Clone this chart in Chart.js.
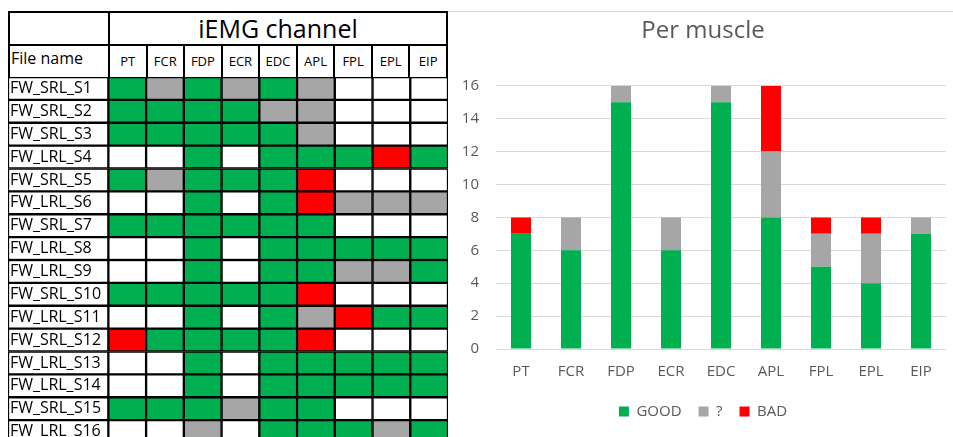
<!DOCTYPE html>
<html>
<head>
<meta charset="utf-8">
<script src="https://cdn.jsdelivr.net/npm/chart.js@4/dist/chart.umd.min.js"></script>
<style>
  html, body { margin: 0; padding: 0; width: 953px; height: 437px; overflow: hidden; background: #fff; font-family: "Open Sans", sans-serif; }
  #head { position: absolute; left: 8px; top: 11px; border-collapse: collapse; table-layout: fixed; width: 440px; }
  #head tr { height: 33px; }
  #head td { border: 2px solid #000; padding: 0; color: #000; overflow: hidden; white-space: nowrap; line-height: 1; }
  #head .title { font-size: 25px; text-align: center; }
  #head .fname { font-size: 16px; vertical-align: top; padding-left: 1px; padding-top: 4px; }
  #head .mus { font-size: 13px; text-align: center; }
  #grid { position: absolute; left: 8px; top: 77px; width: 440px; height: 366px; }
  #per { position: absolute; left: 448px; top: 11px; width: 518px; height: 426px; border-top: 1px solid #d9d9d9; }
</style>
</head>
<body>
<table id="head"></table>
<div id="grid"><canvas id="gridCanvas"></canvas></div>
<div id="per"><canvas id="perCanvas"></canvas></div>
<script>
const muscles = ['PT', 'FCR', 'FDP', 'ECR', 'EDC', 'APL', 'FPL', 'EPL', 'EIP'];
const files = ['FW_SRL_S1', 'FW_SRL_S2', 'FW_SRL_S3', 'FW_LRL_S4', 'FW_SRL_S5', 'FW_LRL_S6', 'FW_SRL_S7', 'FW_LRL_S8',
  'FW_LRL_S9', 'FW_SRL_S10', 'FW_LRL_S11', 'FW_SRL_S12', 'FW_LRL_S13', 'FW_LRL_S14', 'FW_SRL_S15', 'FW_LRL_S16'];

// cell status per muscle column, S1..S16 (G good, Q unsure, B bad, W empty)
const ptStatus  = ['G','G','G','W','G','W','G','W','W','G','W','B','W','W','G','W'];
const fcrStatus = ['Q','G','G','W','Q','W','G','W','W','G','W','G','W','W','G','W'];
const fdpStatus = ['G','G','G','G','G','G','G','G','G','G','G','G','G','G','G','Q'];
const ecrStatus = ['Q','G','G','W','G','W','G','W','W','G','W','G','W','W','Q','W'];
const edcStatus = ['G','Q','G','G','G','G','G','G','G','G','G','G','G','G','G','G'];
const aplStatus = ['Q','Q','Q','G','B','B','G','G','G','B','Q','B','G','G','G','G'];
const fplStatus = ['W','W','W','G','W','Q','W','G','Q','W','B','W','G','G','W','G'];
const eplStatus = ['W','W','W','B','W','Q','W','G','Q','W','G','W','G','G','W','Q'];
const eipStatus = ['W','W','W','G','W','Q','W','G','G','W','G','W','G','G','W','G'];

// per muscle totals
const goodCounts   = [7, 6, 15, 6, 15, 8, 5, 4, 7];
const unsureCounts = [0, 2, 1, 2, 1, 4, 2, 3, 1];
const badCounts    = [1, 0, 0, 0, 0, 4, 1, 1, 0];

const GREEN = '#00B050';
const GREY = '#A6A6A6';
const RED = '#FF0000';
const cellColor = { G: GREEN, Q: GREY, B: RED, W: '#FFFFFF' };
const NAME_COL = 100 / 37.6; // file name column width, in muscle-column units

// header rows
const head = document.getElementById('head');
head.innerHTML =
  '<colgroup><col style="width:100px">' + muscles.map(() => '<col>').join('') + '</colgroup>' +
  '<tr><td class="title"></td><td class="title" colspan="9">iEMG channel</td></tr>' +
  '<tr><td class="fname">File name</td>' + muscles.map(m => '<td class="mus">' + m + '</td>').join('') + '</tr>';

const statusCols = [ptStatus, fcrStatus, fdpStatus, ecrStatus, edcStatus, aplStatus, fplStatus, eplStatus, eipStatus];

const cellDefaults = { borderColor: '#000', borderWidth: 1.5, borderSkipped: false, barPercentage: 1, categoryPercentage: 1 };

new Chart(document.getElementById('gridCanvas'), {
  type: 'bar',
  data: {
    labels: files,
    datasets: [
      { label: 'File name', data: files.map(() => NAME_COL), backgroundColor: '#FFFFFF', ...cellDefaults },
      ...muscles.map((m, j) => ({
        label: m,
        data: files.map(() => 1),
        backgroundColor: statusCols[j].map(s => cellColor[s]),
        ...cellDefaults
      }))
    ]
  },
  options: {
    indexAxis: 'y',
    responsive: true,
    maintainAspectRatio: false,
    animation: false,
    layout: { padding: 0 },
    plugins: { legend: { display: false }, tooltip: { enabled: false } },
    scales: {
      x: { stacked: true, display: false, min: 0, max: NAME_COL + muscles.length },
      y: {
        stacked: true,
        afterFit: (scale) => { scale.width = 0; scale.paddingTop = 0; scale.paddingBottom = 0; },
        grid: { display: false, drawTicks: false },
        border: { display: false },
        ticks: { mirror: true, z: 1, padding: 2, color: '#000', font: { family: 'Open Sans', size: 16 } }
      }
    }
  }
});

new Chart(document.getElementById('perCanvas'), {
  type: 'bar',
  data: {
    labels: muscles,
    datasets: [
      { label: 'GOOD', data: goodCounts, backgroundColor: GREEN },
      { label: '?', data: unsureCounts, backgroundColor: GREY },
      { label: 'BAD', data: badCounts, backgroundColor: RED }
    ]
  },
  options: {
    responsive: true,
    maintainAspectRatio: false,
    animation: false,
    datasets: { bar: { barPercentage: 0.4, categoryPercentage: 1 } },
    layout: { padding: { left: 12, right: 20, bottom: 9 } },
    plugins: {
      title: {
        display: true,
        text: 'Per muscle',
        color: '#595959',
        font: { family: 'Open Sans', size: 24, weight: 'normal' },
        padding: { top: 5, bottom: 40 }
      },
      legend: {
        position: 'bottom',
        labels: { boxWidth: 10, boxHeight: 10, color: '#595959', font: { family: 'Open Sans', size: 15 }, padding: 17 }
      },
      tooltip: { enabled: false }
    },
    scales: {
      x: {
        stacked: true,
        grid: { display: false },
        border: { display: false },
        ticks: { color: '#595959', font: { family: 'Open Sans', size: 15 }, padding: 6 }
      },
      y: {
        stacked: true,
        min: 0,
        max: 16,
        afterFit: (scale) => { scale.width = 36; },
        grid: { color: '#d9d9d9', drawTicks: false },
        border: { display: false },
        ticks: { stepSize: 2, color: '#595959', font: { family: 'Open Sans', size: 15 }, padding: 17 }
      }
    }
  }
});
</script>
</body>
</html>
